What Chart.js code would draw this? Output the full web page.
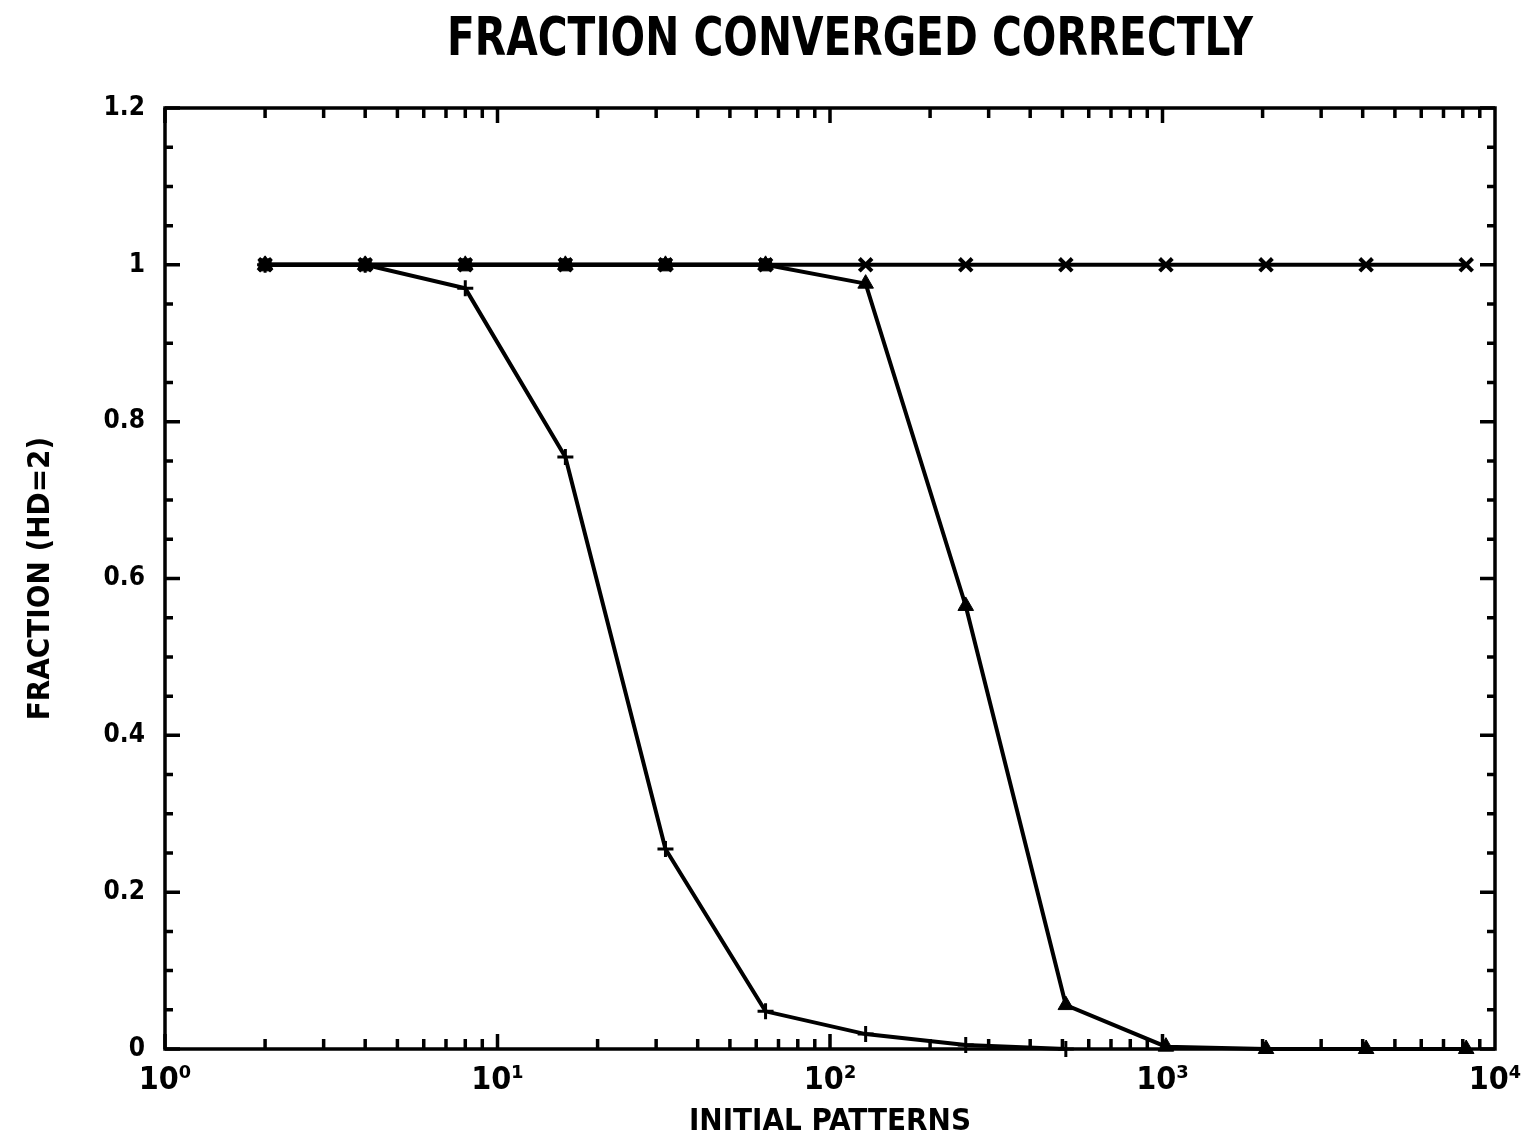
<!DOCTYPE html>
<html>
<head>
<meta charset="utf-8">
<script src="https://cdn.jsdelivr.net/npm/chart.js@4/dist/chart.umd.min.js"></script>
<style>
  html, body { margin: 0; padding: 0; background: #fff; }
  #wrap { width: 1530px; height: 1145px; }
</style>
</head>
<body>
<div id="wrap"><canvas id="c" width="1530" height="1145"></canvas></div>
<script>
// Number of initial patterns (log scale)
const patterns = [2, 4, 8, 16, 32, 64, 128, 256, 512, 1024, 2048, 4096, 8192];

// Fraction converged correctly, Hamming distance 2
const crossSeries    = [1, 1, 1, 1, 1, 1, 1, 1, 1, 1, 1, 1, 1];
const squareSeries   = [1, 1, 1, 1, 1, 1];
const triangleSeries = [1, 1, 1, 1, 1, 1, 0.976, 0.565, 0.056, 0.003, 0, 0, 0];
const plusSeries     = [1, 1, 0.97, 0.755, 0.255, 0.048, 0.019, 0.005, 0];

const yTicks = [0, 0.2, 0.4, 0.6, 0.8, 1, 1.2];
const xDecades = [1, 10, 100, 1000, 10000];
const sup = ['\u2070', '\u00b9', '\u00b2', '\u00b3', '\u2074'];

const TITLE = 'FRACTION CONVERGED CORRECTLY';

const pts = (vals) => vals.map((v, i) => ({ x: patterns[i], y: v }));

const FONT = '"DejaVu Sans Condensed", "Liberation Sans", sans-serif';

// heading, drawn condensed above the plot box
const heading = {
  id: 'heading',
  afterDraw(chart) {
    const { ctx, chartArea: a } = chart;
    ctx.save();
    ctx.font = 'bold 54px ' + FONT;
    ctx.fillStyle = '#000';
    ctx.textBaseline = 'alphabetic';
    ctx.textAlign = 'left';
    const w = ctx.measureText(TITLE).width;
    const target = 806;
    const cx = (a.left + a.right) / 2 + 20;
    ctx.translate(cx - target / 2, 55);
    ctx.scale(target / w, 1);
    ctx.fillText(TITLE, 0, 0);
    ctx.restore();
  }
};

// frame with inward ticks on all four sides
const frameTicks = {
  id: 'frameTicks',
  beforeDatasetsDraw(chart) {
    const { ctx, chartArea: a, scales } = chart;
    const xs = scales.x, ys = scales.y;
    ctx.save();
    ctx.strokeStyle = '#000';
    ctx.lineWidth = 3.5;
    ctx.strokeRect(a.left, a.top, a.right - a.left, a.bottom - a.top);
    ctx.beginPath();
    for (let i = 0; i <= 24; i++) {
      const v = i * 0.05;
      const y = ys.getPixelForValue(v);
      const len = (i % 4 === 0) ? 15 : 8;
      ctx.moveTo(a.left, y); ctx.lineTo(a.left + len, y);
      ctx.moveTo(a.right, y); ctx.lineTo(a.right - len, y);
    }
    for (let d = 0; d < 4; d++) {
      for (let k = 1; k <= 9; k++) {
        const v = k * Math.pow(10, d);
        const x = xs.getPixelForValue(v);
        const len = k === 1 ? 15 : 10;
        ctx.moveTo(x, a.bottom); ctx.lineTo(x, a.bottom - len);
        ctx.moveTo(x, a.top); ctx.lineTo(x, a.top + len);
      }
    }
    ctx.stroke();
    ctx.restore();
  }
};

const common = {
  borderColor: '#000',
  backgroundColor: '#000',
  borderWidth: 4,
  pointBorderColor: '#000',
  pointBackgroundColor: '#000',
  tension: 0,
  fill: false,
  clip: false
};

new Chart(document.getElementById('c'), {
  type: 'line',
  data: {
    datasets: [
      Object.assign({}, common, { label: 'x', data: pts(crossSeries), pointStyle: 'crossRot', pointRadius: 9, pointBorderWidth: 4 }),
      Object.assign({}, common, { label: 'triangle', data: pts(triangleSeries), pointStyle: 'triangle', pointRadius: 9, pointBorderWidth: 1 }),
      Object.assign({}, common, { label: 'plus', data: pts(plusSeries), pointStyle: 'cross', pointRadius: 8, pointBorderWidth: 3 }),
      Object.assign({}, common, { label: 'square', data: pts(squareSeries), pointStyle: 'rect', pointRadius: 8.5, pointBorderWidth: 1 })
    ]
  },
  options: {
    responsive: false,
    animation: false,
    layout: { padding: { left: 0, right: 35, top: 108, bottom: 0 } },
    plugins: {
      legend: { display: false },
      tooltip: { enabled: false },
      title: { display: false }
    },
    scales: {
      x: {
        type: 'logarithmic',
        min: 1,
        max: 10000,
        afterBuildTicks(scale) { scale.ticks = xDecades.map(v => ({ value: v })); },
        afterFit(scale) { scale.height = 96; scale.paddingRight = 0; scale.paddingLeft = 0; },
        grid: { display: false, drawTicks: false },
        border: { display: false },
        ticks: {
          autoSkip: false,
          maxRotation: 0,
          padding: 12,
          color: '#000',
          font: { family: FONT, size: 32, weight: 'bold' },
          callback: (v) => '10' + sup[Math.round(Math.log10(v))]
        },
        title: {
          display: true,
          text: 'INITIAL PATTERNS',
          color: '#000',
          font: { family: FONT, size: 31, weight: 'bold' },
          padding: { top: 0, bottom: 4 }
        }
      },
      y: {
        type: 'linear',
        min: 0,
        max: 1.2,
        afterBuildTicks(scale) { scale.ticks = yTicks.map(v => ({ value: v })); },
        afterFit(scale) { scale.width = 165; },
        grid: { display: false, drawTicks: false },
        border: { display: false },
        ticks: {
          padding: 20,
          color: '#000',
          font: { family: FONT, size: 26, weight: 'bold' },
          callback: (v) => String(parseFloat(Number(v).toFixed(1)))
        },
        title: {
          display: true,
          text: 'FRACTION (HD=2)',
          color: '#000',
          font: { family: FONT, size: 31, weight: 'bold' },
          padding: { top: 22, bottom: 0 }
        }
      }
    }
  },
  plugins: [frameTicks, heading]
});
</script>
</body>
</html>
